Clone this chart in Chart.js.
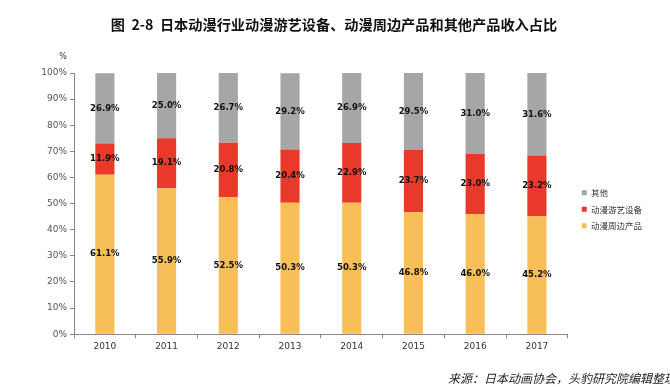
<!DOCTYPE html>
<html><head><meta charset="utf-8">
<script src="https://cdn.jsdelivr.net/npm/chart.js@4/dist/chart.umd.min.js"></script>
<style>
html,body{margin:0;padding:0;background:#fff;}
#wrap{position:relative;width:670px;height:387px;}
#src{position:absolute;right:-6px;top:369px;font:italic 12px "Noto Sans CJK SC";color:#222;white-space:nowrap;}
</style></head>
<body><div id="wrap"><canvas id="c" width="670" height="387"></canvas><div id="src">来源：日本动画协会，头豹研究院编辑整理</div></div>
<script>
const years = ['2010','2011','2012','2013','2014','2015','2016','2017'];
const peripheral = [61.1,55.9,52.5,50.3,50.3,46.8,46.0,45.2];
const arcade = [11.9,19.1,20.8,20.4,22.9,23.7,23.0,23.2];
const others = [26.9,25.0,26.7,29.2,26.9,29.5,31.0,31.6];
const seriesNames = ['动漫周边产品','动漫游艺设备','其他'];

const labelPlugin = {
  id:'barLabels',
  afterLayout(chart){
    if (chart.legend) { chart.legend.left += 6; chart.legend.right += 6; }
  },
  afterDatasetsDraw(chart){
    const ctx = chart.ctx;
    ctx.save();
    ctx.font = 'bold 8.5px "DejaVu Sans"';
    ctx.fillStyle = '#111';
    ctx.textAlign = 'center';
    ctx.textBaseline = 'middle';
    chart.data.datasets.forEach((ds,i)=>{
      const meta = chart.getDatasetMeta(i);
      meta.data.forEach((bar,j)=>{
        const y = (bar.y + bar.base)/2;
        ctx.fillText(ds.data[j].toFixed(1)+'%', bar.x, y);
      });
    });
    ctx.fillStyle='#333';
    ctx.font='8px "DejaVu Sans"';
    ctx.fillText('%', chart.scales.y.right - 11, 57);
    ctx.restore();
  }
};

new Chart(document.getElementById('c'),{
  type:'bar',
  data:{labels:years,datasets:[
    {label:seriesNames[0],data:peripheral,backgroundColor:'#F8BE58',barPercentage:0.31,categoryPercentage:1},
    {label:seriesNames[1],data:arcade,backgroundColor:'#E8392B',barPercentage:0.31,categoryPercentage:1},
    {label:seriesNames[2],data:others,backgroundColor:'#A6A6A6',barPercentage:0.31,categoryPercentage:1}
  ]},
  options:{
    responsive:false,animation:false,
    layout:{padding:{left:22,right:24,top:8,bottom:32}},
    plugins:{
      title:{display:true,text:'图  2-8  日本动漫行业动漫游艺设备、动漫周边产品和其他产品收入占比',font:{family:'"Noto Sans CJK SC"',size:14.2,weight:'bold'},color:'#111',padding:{top:8,bottom:40}},
      legend:{position:'right',fullSize:false,reverse:true,
        title:{display:true,text:' ',font:{size:2},padding:{top:0,bottom:9}},
        labels:{boxWidth:5,boxHeight:5,font:{family:'"Noto Sans CJK SC"',size:8.5},color:'#333',padding:8}},
      tooltip:{enabled:false}
    },
    scales:{
      x:{stacked:true,grid:{offset:true,drawOnChartArea:false,tickLength:4,color:'#888'},border:{color:'#888'},ticks:{font:{family:'"DejaVu Sans"',size:9},color:'#333'}},
      y:{stacked:true,min:0,max:100,afterFit:s=>{s.width=52;},grid:{drawOnChartArea:false,tickLength:4,color:'#888'},border:{color:'#888'},ticks:{stepSize:10,callback:v=>v+'%',font:{family:'"DejaVu Sans"',size:9},color:'#555'}}
    }
  },
  plugins:[labelPlugin]
});
</script></body></html>
